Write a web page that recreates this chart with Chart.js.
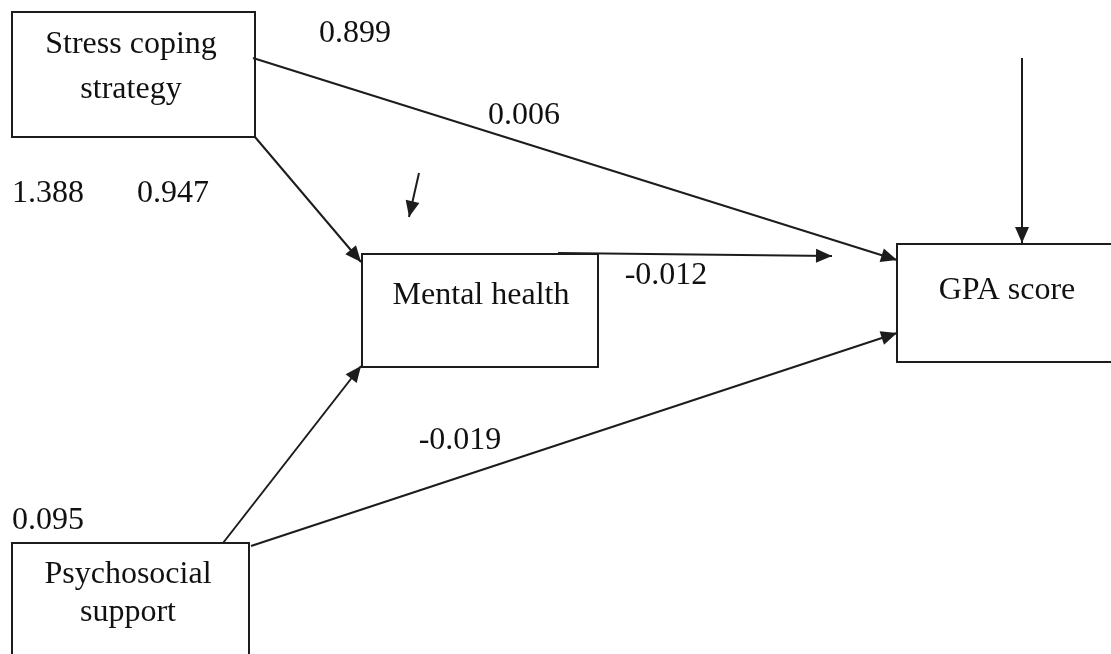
<!DOCTYPE html>
<html>
<head>
<meta charset="utf-8">
<title>Path model</title>
<script src="https://cdn.jsdelivr.net/npm/chart.js@4.4.0/dist/chart.umd.min.js"></script>
<style>
  html, body { margin: 0; padding: 0; background: #fff; }
  #wrap { width: 1111px; height: 654px; position: relative; }
</style>
</head>
<body>
<div id="wrap"><canvas id="pathChart"></canvas></div>
<script>
// ------------------------------------------------------------
// DATA
// ------------------------------------------------------------
const nodeNames = ['Stress coping strategy', 'Mental health', 'GPA score', 'Psychosocial support'];
const nodeLines = [['Stress coping', 'strategy'], ['Mental health'], ['GPA score'], ['Psychosocial', 'support']];

// paths between nodes (index into nodeNames), -1 = error term
const pathFrom = [0, 0, 1, 3, 3, -1, -1];
const pathTo   = [2, 1, 2, 1, 2, 2, 1];

// coefficients printed on the diagram
const coefValues = ['0.899', '0.006', '1.388', '0.947', '-0.012', '-0.019', '0.095'];

// ------------------------------------------------------------
// LAYOUT (pixel space of the 1111x654 figure)
// ------------------------------------------------------------
const boxes = [
    { x1: 12, y1: 12, x2: 255, y2: 137, tx: 131, ty: [45, 90] },
    { x1: 362, y1: 254, x2: 598, y2: 367, tx: 481, ty: [296] },
    { x1: 897, y1: 244, x2: 1113, y2: 362, tx: 1007, ty: [291] },
    { x1: 12, y1: 543, x2: 249, y2: 660, tx: 128, ty: [575, 613] }
];
const pathGeom = [
    [253, 58, 897, 260],
    [255, 137, 361, 262],
    [558, 253, 832, 256],
    [223, 543, 361, 366],
    [251, 546, 897, 333],
    [1022, 58, 1022, 243],
    [419, 173, 409, 217]
];
const coefPos = [
    [355, 34], [524, 116], [48, 194], [173, 194], [666, 276], [460, 441], [48, 521]
];

const INK = '#1c1c1c';
const FONT = '32px "Liberation Serif", "Times New Roman", serif';

// ------------------------------------------------------------
// DATASETS: one line per path
// ------------------------------------------------------------
const datasets = pathFrom.map((f, i) => {
    const g = pathGeom[i];
    return {
        label: (f < 0 ? 'error' : nodeNames[f]) + ' -> ' + nodeNames[pathTo[i]],
        data: [{ x: g[0], y: g[1] }, { x: g[2], y: g[3] }],
        showLine: true,
        borderColor: INK,
        borderWidth: 2,
        pointRadius: 0,
        fill: false
    };
});

const diagramPlugin = {
    id: 'diagram',
    beforeDatasetsDraw(chart) {
        const ctx = chart.ctx;
        const xs = chart.scales.x, ys = chart.scales.y;
        ctx.save();
        ctx.strokeStyle = INK;
        ctx.lineWidth = 2;
        boxes.forEach(b => {
            const x1 = xs.getPixelForValue(b.x1), y1 = ys.getPixelForValue(b.y1);
            const x2 = xs.getPixelForValue(b.x2), y2 = ys.getPixelForValue(b.y2);
            ctx.strokeRect(x1, y1, x2 - x1, y2 - y1);
        });
        ctx.restore();
    },
    afterDatasetsDraw(chart) {
        const ctx = chart.ctx;
        const xs = chart.scales.x, ys = chart.scales.y;
        ctx.save();
        // arrowheads
        ctx.fillStyle = INK;
        pathGeom.forEach(g => {
            const sx = xs.getPixelForValue(g[0]), sy = ys.getPixelForValue(g[1]);
            const ex = xs.getPixelForValue(g[2]), ey = ys.getPixelForValue(g[3]);
            const ang = Math.atan2(ey - sy, ex - sx);
            const len = 16, half = 7;
            ctx.beginPath();
            ctx.moveTo(ex, ey);
            ctx.lineTo(ex - len * Math.cos(ang) + half * Math.sin(ang), ey - len * Math.sin(ang) - half * Math.cos(ang));
            ctx.lineTo(ex - len * Math.cos(ang) - half * Math.sin(ang), ey - len * Math.sin(ang) + half * Math.cos(ang));
            ctx.closePath();
            ctx.fill();
        });
        // text
        ctx.font = FONT;
        ctx.fillStyle = '#111';
        ctx.textAlign = 'center';
        ctx.textBaseline = 'middle';
        boxes.forEach((b, i) => {
            nodeLines[i].forEach((t, j) => {
                ctx.fillText(t, xs.getPixelForValue(b.tx), ys.getPixelForValue(b.ty[j]));
            });
        });
        coefValues.forEach((v, i) => {
            ctx.fillText(v, xs.getPixelForValue(coefPos[i][0]), ys.getPixelForValue(coefPos[i][1]));
        });
        ctx.restore();
    }
};

new Chart(document.getElementById('pathChart'), {
    type: 'scatter',
    data: { datasets },
    options: {
        responsive: true,
        maintainAspectRatio: false,
        animation: false,
        layout: { padding: 0 },
        plugins: { legend: { display: false }, tooltip: { enabled: false } },
        scales: {
            x: { type: 'linear', min: 0, max: 1111, display: false },
            y: { type: 'linear', min: 0, max: 654, reverse: true, display: false }
        }
    },
    plugins: [diagramPlugin]
});
</script>
</body>
</html>
